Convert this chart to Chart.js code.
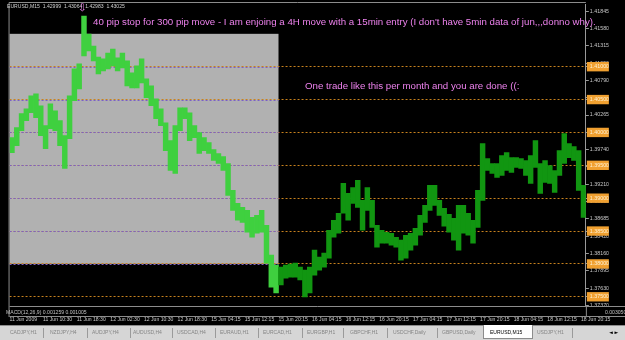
<!DOCTYPE html>
<html>
<head>
<meta charset="utf-8">
<script src="https://cdn.jsdelivr.net/npm/chart.js@4.4.1/dist/chart.umd.min.js"></script>
<style>
body { margin: 0; width: 625px; height: 340px; background: #000; overflow: hidden; position: relative; font-family: "Liberation Sans", Arial, sans-serif; }
#chartBox { position: absolute; left: 0; top: 0; width: 625px; height: 326px; }
.txt { position: absolute; white-space: nowrap; line-height: 1; }
.note { color: #ee82ee; font-size: 9.7px; line-height: 10px; }
.small { color: #d0d0d0; font-size: 5.1px; }
#tabs { position: absolute; left: 0; top: 325px; width: 625px; height: 15px; background: #d6d6d6; border-top: 1px solid #8c8c8c; }
.tab { position: absolute; top: 4px; font-size: 5px; color: #858585; white-space: nowrap; line-height: 1; }
.sep { position: absolute; top: 2px; width: 1px; height: 10px; background: #9a9a9a; }
#active { position: absolute; left: 483px; top: -1px; width: 48px; height: 13px; background: #fff; border: 1px solid #8c8c8c; border-top: none; }
</style>
</head>
<body>
<div id="chartBox"><canvas id="chart" width="625" height="326"></canvas></div>

<div class="txt small" style="left:7px;top:3.5px;">EURUSD,M15&nbsp; 1.42999&nbsp; 1.43064&nbsp; 1.42983&nbsp; 1.43025</div>
<div class="txt" style="left:78px;top:3px;font-family:'DejaVu Sans';font-size:10px;color:#ee82ee;">&#8681;</div>
<div class="txt note" style="left:93px;top:16.6px;">40 pip stop for 300 pip move - I am enjoing a 4H move with a 15min entry (I don't have 5min data of jun,,,donno why).</div>
<div class="txt note" style="left:305px;top:80.5px;">One trade like this per month and you are done ((:</div>
<div class="txt small" style="left:6px;top:310px;color:#c0c0c0;">MACD(12,26,9) 0.001259 0.001005</div>
<div class="txt small" style="left:605px;top:310px;color:#c0c0c0;">0.003050</div>

<div id="tabs"></div>

<script>
// bars of EURUSD M15 (one entry ≈ 5 px of the original)
const highs = [
    1.39921, 1.40073, 1.40285, 1.40360, 1.40557, 1.40588, 1.40406, 1.40103, 1.40436, 1.40330,
    1.40179, 1.39951, 1.40557, 1.40966, 1.41042, 1.41769, 1.41497, 1.41315, 1.41148, 1.41118,
    1.41209, 1.41269, 1.41133, 1.41209, 1.41088, 1.40906, 1.41012, 1.41118, 1.40815, 1.40709,
    1.40512, 1.40360, 1.40148, 1.39876, 1.40103, 1.40375, 1.40375, 1.40300, 1.40103, 1.39997,
    1.39921, 1.39845, 1.39739, 1.39679, 1.39633, 1.39527, 1.39118, 1.38921, 1.38860, 1.38815,
    1.38709, 1.38739, 1.38815, 1.38588, 1.38133, 1.37982, 1.37951, 1.37982, 1.37997, 1.38012,
    1.37951, 1.37906, 1.37951, 1.38209, 1.38103, 1.38164, 1.38512, 1.38664, 1.38770, 1.39224,
    1.39073, 1.39163, 1.39270, 1.38967, 1.39163, 1.38967, 1.38588, 1.38512, 1.38482, 1.38467,
    1.38406, 1.38361, 1.38436, 1.38467, 1.38542, 1.38739, 1.38891, 1.39194, 1.39194, 1.38967,
    1.38845, 1.38754, 1.38694, 1.38891, 1.38891, 1.38770, 1.38664, 1.39118, 1.39830, 1.39603,
    1.39527, 1.39527, 1.39648, 1.39694, 1.39618, 1.39618, 1.39603, 1.39573, 1.39648, 1.39876,
    1.39527, 1.39573, 1.39497, 1.39421, 1.39724, 1.39982, 1.39830, 1.39785, 1.39724, 1.39194
];
const lows = [
    1.39694, 1.39800, 1.40027, 1.40179, 1.40300, 1.40224, 1.39951, 1.39754, 1.40057, 1.40027,
    1.39800, 1.39451, 1.39906, 1.40482, 1.40663, 1.41163, 1.41239, 1.41088, 1.40891, 1.40936,
    1.40966, 1.41012, 1.40936, 1.40981, 1.40709, 1.40678, 1.40678, 1.40754, 1.40527, 1.40406,
    1.40209, 1.40103, 1.39724, 1.39421, 1.39376, 1.40027, 1.40209, 1.39876, 1.39921, 1.39679,
    1.39724, 1.39679, 1.39573, 1.39527, 1.39421, 1.39042, 1.38815, 1.38664, 1.38633, 1.38482,
    1.38406, 1.38467, 1.38482, 1.38012, 1.37648, 1.37558, 1.37679, 1.37785, 1.37800, 1.37800,
    1.37755, 1.37497, 1.37558, 1.37830, 1.37906, 1.37951, 1.38088, 1.38406, 1.38467, 1.38770,
    1.38664, 1.38921, 1.38860, 1.38512, 1.38815, 1.38557, 1.38254, 1.38315, 1.38315, 1.38285,
    1.38254, 1.38058, 1.38088, 1.38209, 1.38285, 1.38436, 1.38633, 1.38815, 1.38891, 1.38739,
    1.38573, 1.38482, 1.38361, 1.38209, 1.38467, 1.38436, 1.38315, 1.38557, 1.38967, 1.39421,
    1.39376, 1.39315, 1.39345, 1.39421, 1.39391, 1.39466, 1.39451, 1.39345, 1.39224, 1.39466,
    1.39073, 1.39239, 1.39224, 1.39088, 1.39345, 1.39527, 1.39618, 1.39573, 1.39118, 1.38709
];

// time axis, one label every 7 entries
const timeLabels = [
    '11 Jun 2009', '11 Jun 10:30', '11 Jun 18:30', '12 Jun 02:30', '12 Jun 10:30', '12 Jun 18:30',
    '15 Jun 04:15', '15 Jun 12:15', '15 Jun 20:15', '16 Jun 04:15', '16 Jun 12:15', '16 Jun 20:15',
    '17 Jun 04:15', '17 Jun 12:15', '17 Jun 20:15', '18 Jun 04:15', '18 Jun 12:15', '18 Jun 20:15'
];
const labelEvery = 7;

// price scale labels
const axisPrices = [
    1.41845, 1.41580, 1.41315, 1.41050, 1.40790, 1.40525, 1.40265, 1.39740, 1.39475,
    1.39210, 1.38950, 1.38685, 1.38420, 1.38160, 1.37895, 1.37630, 1.37370
];
// horizontal lines drawn every 50 pips
const priceLevels = [1.41, 1.405, 1.40, 1.395, 1.39, 1.385, 1.38, 1.375];

// grey rectangle object on the chart
const rectBox = { lastBar: 55, top: 1.415, bottom: 1.38 };

const tabs = [
    ['CADJPY,H1', 10], ['NZDJPY,H4', 50], ['AUDJPY,H4', 92], ['AUDUSD,H4', 133], ['USDCAD,H4', 177],
    ['EURAUD,H1', 220], ['EURCAD,H1', 263], ['EURGBP,H1', 307], ['GBPCHF,H1', 350], ['USDCHF,Daily', 393],
    ['GBPUSD,Daily', 442], ['EURUSD,M15', 490], ['USDJPY,H1', 537]
];
const tabSeps = [43, 87, 130, 172, 215, 258, 302, 343, 387, 437, 572];

const bars = highs.map((h, i) => i);
const isLevel = v => priceLevels.some(p => Math.abs(p - v) < 1e-7);

// tab bar
const tabBar = document.getElementById('tabs');
tabBar.innerHTML = '<div id="active"></div>';
tabSeps.forEach(x => {
    const s = document.createElement('div');
    s.className = 'sep';
    s.style.left = x + 'px';
    tabBar.appendChild(s);
});
tabs.forEach(([name, x]) => {
    const t = document.createElement('div');
    t.className = 'tab';
    t.style.left = x + 'px';
    if (name === 'EURUSD,M15') t.style.color = '#000';
    t.textContent = name;
    tabBar.appendChild(t);
});
const arrows = document.createElement('div');
arrows.className = 'tab';
arrows.style.left = '609px';
arrows.style.color = '#000';
arrows.style.fontFamily = 'DejaVu Sans';
arrows.textContent = '\u25C4 \u25BA';
tabBar.appendChild(arrows);

// grey box, purple lines inside it, window frame
const mtPlugin = {
    id: 'mtPlugin',
    beforeDraw(chart) {
        const { ctx, chartArea, scales: { x, y } } = chart;
        const w = x.getPixelForValue(1) - x.getPixelForValue(0);
        const right = x.getPixelForValue(rectBox.lastBar) + w / 2;
        const top = y.getPixelForValue(rectBox.top);
        const bottom = y.getPixelForValue(rectBox.bottom);
        ctx.save();
        ctx.fillStyle = '#b1b1b1';
        ctx.fillRect(chartArea.left, top, right - chartArea.left, bottom - top);
        ctx.restore();
    },
    beforeDatasetsDraw(chart) {
        const { ctx, chartArea, scales: { x, y } } = chart;
        const w = x.getPixelForValue(1) - x.getPixelForValue(0);
        const right = x.getPixelForValue(rectBox.lastBar) + w / 2;
        ctx.save();
        ctx.strokeStyle = '#7b5fc8';
        ctx.lineWidth = 1;
        ctx.setLineDash([2, 2]);
        priceLevels.forEach(p => {
            if (p > rectBox.top || p < rectBox.bottom) return;
            const py = Math.round(y.getPixelForValue(p)) + 0.5;
            ctx.beginPath();
            ctx.moveTo(chartArea.left, py);
            ctx.lineTo(right, py);
            ctx.stroke();
        });
        ctx.restore();
    },
    afterDraw(chart) {
        const { ctx, chartArea } = chart;
        ctx.save();
        ctx.strokeStyle = '#8c8c8c';
        ctx.lineWidth = 1;
        ctx.beginPath();
        ctx.moveTo(chartArea.left - 0.5, 2.5);
        ctx.lineTo(chartArea.right, 2.5);
        ctx.moveTo(chartArea.left - 0.5, 2.5);
        ctx.lineTo(chartArea.left - 0.5, 317);
        ctx.moveTo(chartArea.left, chartArea.bottom + 1.5);
        ctx.lineTo(625, chartArea.bottom + 1.5);
        ctx.moveTo(chartArea.left, 316.5);
        ctx.lineTo(625, 316.5);
        ctx.moveTo(chartArea.right + 0.5, chartArea.bottom);
        ctx.lineTo(chartArea.right + 0.5, 317);
        ctx.stroke();
        ctx.restore();
    }
};

new Chart(document.getElementById('chart'), {
    type: 'bar',
    data: {
        labels: bars,
        datasets: [{
            data: highs.map((h, i) => [lows[i], h]),
            backgroundColor: c => c.dataIndex <= rectBox.lastBar ? '#3fd03f' : '#119611',
            borderWidth: 0,
            borderSkipped: false,
            barPercentage: 1,
            categoryPercentage: 1
        }]
    },
    options: {
        responsive: false,
        animation: false,
        layout: { padding: { left: 4, top: 3, right: 0, bottom: 0 } },
        plugins: { legend: { display: false }, tooltip: { enabled: false } },
        scales: {
            x: {
                offset: true,
                grid: { display: false, drawTicks: false },
                border: { display: false },
                afterFit: s => { s.height = 21; },
                ticks: {
                    autoSkip: false, maxRotation: 0, minRotation: 0,
                    align: 'start', padding: 12, labelOffset: -2.5,
                    color: '#c8c8c8',
                    font: { family: 'Liberation Sans', size: 5.1 },
                    callback: (v, i) => i % labelEvery === 0 ? timeLabels[i / labelEvery] : ''
                }
            },
            y: {
                position: 'right',
                min: 1.37375,
                max: 1.41951,
                afterBuildTicks: s => { s.ticks = axisPrices.concat(priceLevels).map(v => ({ value: v })); },
                afterFit: s => { s.width = 23; },
                grid: {
                    color: c => c.tick && isLevel(c.tick.value) ? '#c8821e' : 'rgba(0,0,0,0)',
                    drawTicks: true, tickLength: 3, tickColor: '#9a9a9a', lineWidth: 1
                },
                border: { display: true, color: '#9a9a9a', dash: [2, 2] },
                ticks: {
                    autoSkip: false, padding: 1,
                    color: c => isLevel(c.tick.value) ? '#fff2d4' : '#c8c8c8',
                    font: { family: 'Liberation Sans', size: 5.3 },
                    callback: v => v.toFixed(5),
                    showLabelBackdrop: c => isLevel(c.tick.value),
                    backdropColor: '#f0a030',
                    backdropPadding: { top: 1.5, bottom: 1.5, left: 3, right: 6 }
                }
            }
        }
    },
    plugins: [mtPlugin]
});
</script>
</body>
</html>
